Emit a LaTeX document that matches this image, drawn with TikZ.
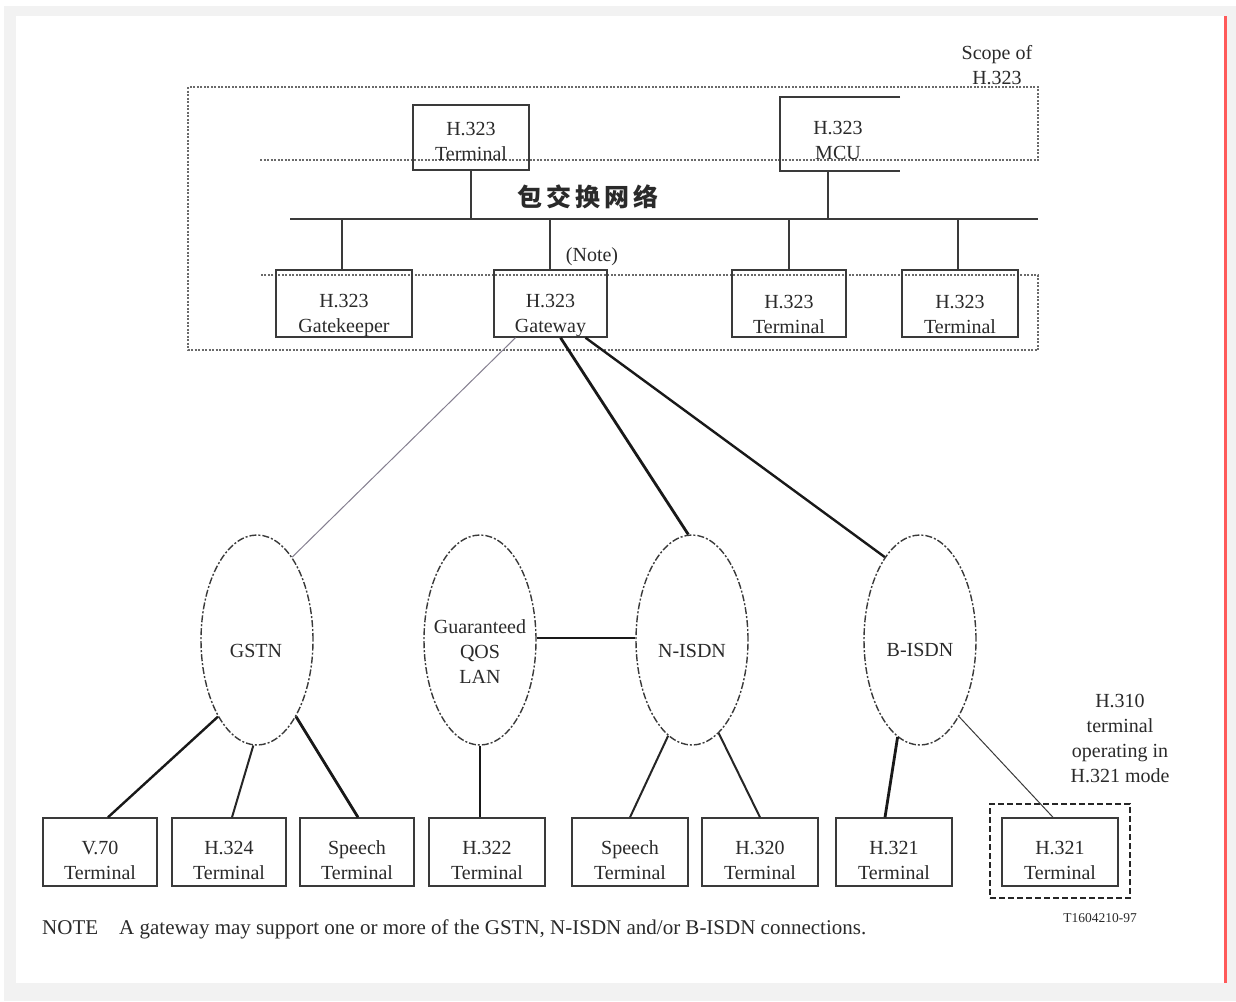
\documentclass[tikz,border=0pt]{standalone}
\usepackage{fontspec}
\setmainfont{Liberation Serif}
\newfontfamily\cjk{Noto Sans CJK SC}
\usetikzlibrary{shapes.geometric}
\definecolor{txt}{HTML}{2A2A2A}
\definecolor{ln}{HTML}{3A3A3A}
\definecolor{framegray}{HTML}{F2F2F2}
\definecolor{scopegray}{HTML}{6A6A6A}
\definecolor{thingray}{HTML}{857F90}
\definecolor{redline}{HTML}{FF5A5A}
\begin{document}
\begin{tikzpicture}[x=1pt,y=-1pt,
  every node/.style={text=txt, font=\fontsize{20}{25}\selectfont, inner sep=0pt, align=center},
  box/.style={draw=ln, line width=1.4pt, minimum width=115pt, minimum height=68pt},
  net/.style={ellipse, draw=ln, line width=1.4pt, dash pattern=on 7pt off 2pt on 2pt off 2pt, minimum width=112pt, minimum height=210pt},
  wire/.style={draw=ln, line width=1.5pt},
  midwire/.style={draw=black!85, line width=2pt},
  heavy/.style={draw=black!90, line width=2.8pt},
  thinwire/.style={draw=thingray, line width=1pt},
  scope/.style={draw=scopegray, line width=1.6pt, dash pattern=on 2pt off 1.5pt}]
% background and frame
\useasboundingbox (0,0) rectangle (1236,1001);
\fill[framegray] (4,6) rectangle (1236,1001);
\fill[white] (16,16) rectangle (1224,983);
\draw[redline, line width=3pt] (1225,16) -- (1225,983);

% scope of H.323
\draw[scope] (260,160) -- (1038,160) -- (1038,87) -- (188,87) -- (188,350) -- (1038,350) -- (1038,275) -- (260,275);
\node (scopetxt) at (997,65) {Scope of\\H.323};

% top row
\node[box, minimum width=116pt, minimum height=65pt] (t1) at (471,137.5) {};
\node (t1T) at ([yshift=-4pt]t1.center) {H.323\\Terminal};
\node (mcu) at (838,140) {H.323\\MCU};
\coordinate (mcuTR) at (900,97);
\coordinate (mcuTL) at (780,97);
\coordinate (mcuBL) at (780,171);
\coordinate (mcuBR) at (900,171);
\coordinate (mcuB) at (828,171);
\draw[wire] (mcuTR) -- (mcuTL) -- (mcuBL) -- (mcuBR);

% packet network bus
\node (pkt) at (588,197) {\cjk\bfseries\fontsize{25}{25}\selectfont 包\hspace{4pt}交\hspace{4pt}换\hspace{4pt}网\hspace{4pt}络};
\coordinate (busL) at (290,219);
\coordinate (busR) at (1038,219);
\draw[wire] (busL) -- (busR);
\draw[wire] (t1.south) -- (t1.south |- busL);
\draw[wire] (mcuB) -- (mcuB |- busL);

% second row
\node[box, minimum width=136pt, minimum height=67pt] (gk) at (344,303.5) {};
\node[box, minimum width=113pt, minimum height=67pt] (gw) at (550.5,303.5) {};
\node[box, minimum width=114pt, minimum height=67pt] (t2) at (789,303.5) {};
\node[box, minimum width=116pt, minimum height=67pt] (t3) at (960,303.5) {};
\node (gkT) at ([yshift=-12pt]gk.center) {H.323\\Gatekeeper};
\node (gwT) at ([yshift=-12pt]gw.center) {H.323\\Gateway};
\node (t2T) at ([yshift=-11pt]t2.center) {H.323\\Terminal};
\node (t3T) at ([yshift=-11pt]t3.center) {H.323\\Terminal};
\node (notelbl) at (592,257) {(Note)};
\draw[wire] ([xshift=-2pt]gk.north |- busL) -- ([xshift=-2pt]gk.north);
\draw[wire] ([xshift=-0.5pt]gw.north |- busL) -- ([xshift=-0.5pt]gw.north);
\draw[wire] (t2.north |- busL) -- (t2.north);
\draw[wire] ([xshift=-2pt]t3.north |- busL) -- ([xshift=-2pt]t3.north);

% networks
\node[net] (gstn) at (257,640) {};
\node[net] (lan) at (480,640) {};
\node[net] (nisdn) at (692,640) {};
\node[net] (bisdn) at (920,640) {};
\node (gstnL) at (256,651) {GSTN};
\node (lanL) at (480,652) {Guaranteed\\QOS\\LAN};
\node (nisdnL) at (692,651) {N-ISDN};
\node (bisdnL) at (920,650) {B-ISDN};

% gateway connections
\draw[thinwire] ([xshift=-35pt]gw.south) -- (gstn.67);
\draw[heavy] ([xshift=10pt]gw.south) -- (nisdn.92);
\draw[heavy, line width=2.4pt] ([xshift=35pt]gw.south) -- (bisdn.113);
\draw[heavy] (lan.2) -- (nisdn.178);

% bottom row terminals
\node[box, minimum width=114pt] (v70) at (100,852) {};
\node[box, minimum width=114pt] (h324) at (229,852) {};
\node[box, minimum width=114pt] (sp1) at (357,852) {};
\node[box, minimum width=116pt] (h322) at (487,852) {};
\node[box, minimum width=116pt] (sp2) at (630,852) {};
\node[box, minimum width=116pt] (h320) at (760,852) {};
\node[box, minimum width=116pt] (h321a) at (894,852) {};
\node[draw=black!85, line width=2.4pt, dash pattern=on 6pt off 3pt, minimum width=140pt, minimum height=94pt] (h321frame) at (1060,851) {};
\node[box, minimum width=116pt] (h321b) at (1060,852) {};
\node (v70T) at ([yshift=-8pt]v70.center) {V.70\\Terminal};
\node (h324T) at ([yshift=-8pt]h324.center) {H.324\\Terminal};
\node (sp1T) at ([yshift=-8pt]sp1.center) {Speech\\Terminal};
\node (h322T) at ([yshift=-8pt]h322.center) {H.322\\Terminal};
\node (sp2T) at ([yshift=-8pt]sp2.center) {Speech\\Terminal};
\node (h320T) at ([yshift=-8pt]h320.center) {H.320\\Terminal};
\node (h321aT) at ([yshift=-8pt]h321a.center) {H.321\\Terminal};
\node (h321bT) at ([yshift=-8pt]h321b.center) {H.321\\Terminal};

% network to terminal connections
\draw[heavy, line width=2.4pt] (gstn.243) -- ([xshift=8pt]v70.north);
\draw[midwire] (gstn.268) -- ([xshift=3pt]h324.north);
\draw[heavy] (gstn.297) -- ([xshift=1pt]sp1.north);
\draw[heavy] (lan.south) -- ([xshift=-7pt]h322.north);
\draw[midwire] (nisdn.256) -- (sp2.north);
\draw[midwire] (nisdn.286) -- (h320.north);
\draw[heavy] (bisdn.257) -- ([xshift=-9pt]h321a.north);
\draw[thinwire, draw=ln] (bisdn.297) -- ([xshift=-7pt]h321b.north);

% annotations
\node (h310) at (1120,738) {H.310\\terminal\\operating in\\H.321 mode};
\node (tnum) at (1100,918) {\fontsize{13.5}{15}\selectfont T1604210-97};
\node[anchor=west] (note) at (42,929) {\fontsize{21}{24}\selectfont NOTE\hspace{1em}A gateway may support one or more of the GSTN, N-ISDN and/or B-ISDN connections.};
\end{tikzpicture}
\end{document}
